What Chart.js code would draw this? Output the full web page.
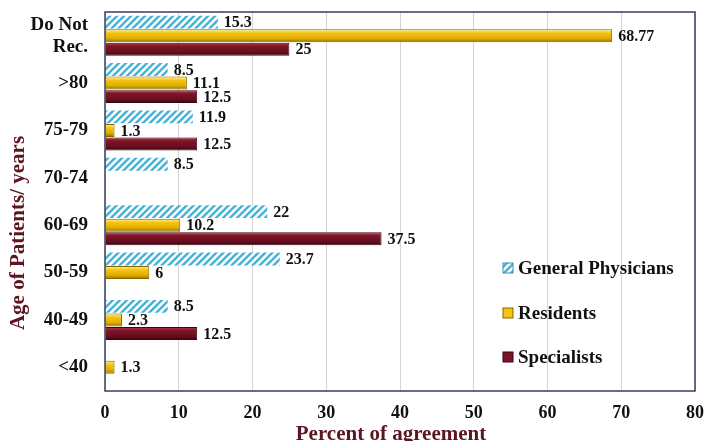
<!DOCTYPE html>
<html>
<head>
<meta charset="utf-8">
<script src="https://cdn.jsdelivr.net/npm/chart.js@4/dist/chart.umd.min.js"></script>
<style>
  html, body { margin: 0; padding: 0; background: #fff; }
  #wrap { width: 706px; height: 441px; }
</style>
</head>
<body>
<div id="wrap"><canvas id="myChart" width="706" height="441"></canvas></div>
<script>
// Chart data
const ageGroups = [['Do Not', 'Rec.'], '>80', '75-79', '70-74', '60-69', '50-59', '40-49', '<40']
const generalPhysicians = [15.3, 8.5, 11.9, 8.5, 22, 23.7, 8.5, null]
const residents = [68.77, 11.1, 1.3, null, 10.2, 6, 2.3, 1.3]
const specialists = [25, 12.5, 12.5, null, 37.5, null, 12.5, null]
const xTickValues = [0, 10, 20, 30, 40, 50, 60, 70, 80]

const serif = "'Liberation Serif', 'DejaVu Serif', serif"
const titleColor = '#5e1522'

// Blue hatch used for the general physicians bars
const makeHatch = () => {
    const c = document.createElement('canvas')
    c.width = 7
    c.height = 7
    const g = c.getContext('2d')
    g.fillStyle = '#ffffff'
    g.fillRect(0, 0, 7, 7)
    g.strokeStyle = '#45b3d6'
    g.lineWidth = 2.4
    g.beginPath()
    g.moveTo(-1, 8); g.lineTo(8, -1)
    g.moveTo(-4, 4); g.lineTo(4, -4)
    g.moveTo(3, 11); g.lineTo(11, 3)
    g.stroke()
    return g.createPattern(c, 'repeat')
}

// Shaded look of the solid bars (stops per dataset)
const shades = {
    Residents: ['#fff0a0', '#f3c411', '#e0ad00', '#9a7000'],
    Specialists: ['#b03848', '#7b1426', '#6a0f1f', '#35040d']
}

// Each solid bar gets its own vertical gradient once it has a position
const barShading = {
    id: 'barShading',
    beforeDatasetsDraw(chart) {
        const ctx = chart.ctx
        chart.data.datasets.forEach((ds, i) => {
            const stops = shades[ds.label]
            if (!stops) return
            chart.getDatasetMeta(i).data.forEach(bar => {
                const h = bar.height
                const gr = ctx.createLinearGradient(0, bar.y - h / 2, 0, bar.y + h / 2)
                gr.addColorStop(0, stops[0])
                gr.addColorStop(0.3, stops[1])
                gr.addColorStop(0.7, stops[2])
                gr.addColorStop(1, stops[3])
                bar.options = Object.assign({}, bar.options, { backgroundColor: gr })
            })
        })
    }
}

// Value labels at the end of each bar
const valueLabels = {
    id: 'valueLabels',
    afterDatasetsDraw(chart) {
        const ctx = chart.ctx
        ctx.save()
        ctx.font = 'bold 16px ' + serif
        ctx.fillStyle = '#111'
        ctx.textBaseline = 'middle'
        chart.data.datasets.forEach((ds, i) => {
            chart.getDatasetMeta(i).data.forEach((bar, j) => {
                const v = ds.data[j]
                if (v == null) return
                ctx.fillText(String(v), bar.x + 6, bar.y + 1)
            })
        })
        ctx.restore()
    }
}

// Frame, axis titles and the legend inside the plot
const decorations = {
    id: 'decorations',
    afterDraw(chart) {
        const ctx = chart.ctx
        const a = chart.chartArea
        ctx.save()
        ctx.strokeStyle = '#33425f'
        ctx.lineWidth = 1.5
        ctx.strokeRect(a.left, a.top, a.right - a.left, a.bottom - a.top)

        ctx.fillStyle = titleColor
        ctx.font = 'bold 21px ' + serif
        ctx.textAlign = 'center'
        ctx.textBaseline = 'middle'
        ctx.fillText('Percent of agreement', 391, 435)

        ctx.save()
        ctx.translate(19, 233)
        ctx.rotate(-Math.PI / 2)
        ctx.fillText('Age of Patients/ years', 0, 0)
        ctx.restore()

        ctx.textAlign = 'left'
        ctx.font = 'bold 19px ' + serif
        const rows = [123, 78, 34]
        const boxColors = ['#45b3d6', '#f3c411', '#7b1426']
        chart.data.datasets.forEach((ds, i) => {
            const y = a.bottom - rows[i]
            const x = a.left + 398
            ctx.fillStyle = i === 0 ? ds.backgroundColor : boxColors[i]
            ctx.fillRect(x, y - 5, 10, 10)
            ctx.strokeStyle = ds.borderColor
            ctx.lineWidth = 1
            ctx.strokeRect(x, y - 5, 10, 10)
            ctx.fillStyle = '#111'
            ctx.fillText(ds.label, x + 15, y + 1)
        })
        ctx.restore()
    }
}

const ctx = document.getElementById('myChart')

new Chart(ctx, {
    type: 'bar',
    data: {
        labels: ageGroups,
        datasets: [{
            label: 'General Physicians',
            data: generalPhysicians,
            backgroundColor: makeHatch(),
            borderColor: '#3f8fb0',
            borderWidth: 0
        }, {
            label: 'Residents',
            data: residents,
            backgroundColor: '#f1c20c',
            borderColor: '#8a6400',
            borderWidth: 1
        }, {
            label: 'Specialists',
            data: specialists,
            backgroundColor: '#7b1426',
            borderColor: '#3a0610',
            borderWidth: 1
        }]
    },
    options: {
        indexAxis: 'y',
        responsive: false,
        animation: false,
        categoryPercentage: 0.86,
        barPercentage: 0.95,
        layout: {
            padding: { top: 12, right: 11, left: 0, bottom: 0 }
        },
        plugins: {
            legend: { display: false },
            tooltip: { enabled: false }
        },
        scales: {
            x: {
                min: 0,
                max: 80,
                afterBuildTicks: scale => {
                    scale.ticks = xTickValues.map(v => ({ value: v }))
                },
                afterFit: scale => {
                    scale.height = 50
                    scale.paddingLeft = 0
                    scale.paddingRight = 0
                },
                grid: { color: '#d4d4d4', drawTicks: false },
                border: { display: false },
                ticks: {
                    padding: 12,
                    color: '#111',
                    font: { family: serif, size: 18, weight: 'bold' }
                }
            },
            y: {
                afterFit: scale => {
                    scale.width = 105
                    scale.paddingTop = 0
                    scale.paddingBottom = 0
                },
                grid: { display: false, drawTicks: false },
                border: { display: false },
                ticks: {
                    padding: 17,
                    color: '#111',
                    font: { family: serif, size: 19, weight: 'bold', lineHeight: 1.15 }
                }
            }
        }
    },
    plugins: [barShading, valueLabels, decorations]
})
</script>
</body>
</html>
